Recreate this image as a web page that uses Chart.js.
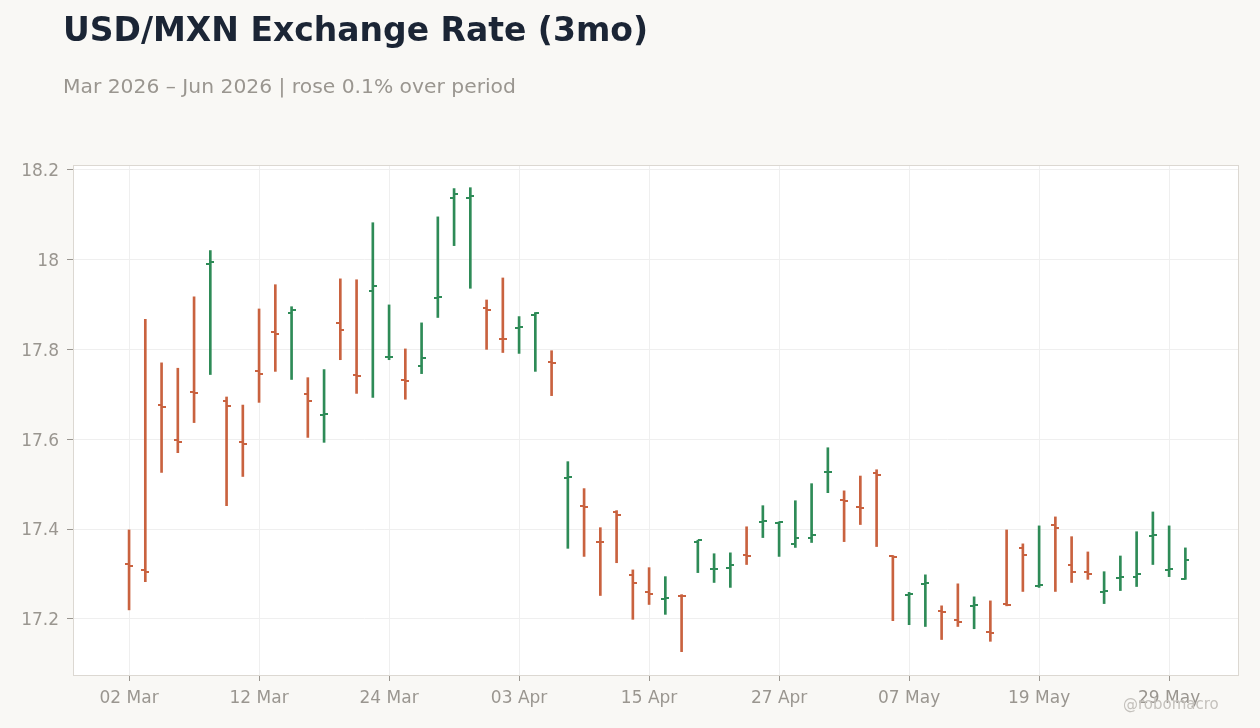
<!DOCTYPE html>
<html>
<head>
<meta charset="utf-8">
<title>USD/MXN Exchange Rate (3mo)</title>
<script src="https://cdn.jsdelivr.net/npm/chart.js@4.4.1/dist/chart.umd.min.js"></script>
<style>
  html, body { margin: 0; padding: 0; background: #f9f8f5; }
  body { width: 1260px; height: 728px; position: relative; overflow: hidden; font-family: "DejaVu Sans", sans-serif; }
  #title { position: absolute; left: 63px; top: 10px; font-size: 33px; font-weight: bold; color: #1b2535; white-space: nowrap; }
  #subtitle { position: absolute; left: 63px; top: 74px; font-size: 20.3px; color: #9a9690; white-space: nowrap; }
  #credit { position: absolute; left: 1123px; top: 695px; font-size: 15px; color: #c4c1bc; white-space: nowrap; }
  #wrap { position: absolute; left: 0; top: 0; width: 1260px; height: 728px; }
</style>
</head>
<body>
<div id="wrap"><canvas id="ohlcChart"></canvas></div>
<div id="title">USD/MXN Exchange Rate (3mo)</div>
<div id="subtitle">Mar 2026 – Jun 2026 | rose 0.1% over period</div>
<div id="credit">@robomacro</div>
<script>
// ---------- data (trading days) ----------
const dates = [
  '02 Mar', '03 Mar', '04 Mar', '05 Mar', '06 Mar', '09 Mar', '10 Mar', '11 Mar',
  '12 Mar', '13 Mar', '16 Mar', '17 Mar', '18 Mar', '19 Mar', '20 Mar', '23 Mar',
  '24 Mar', '25 Mar', '26 Mar', '27 Mar', '30 Mar', '31 Mar', '01 Apr', '02 Apr',
  '03 Apr', '06 Apr', '07 Apr', '08 Apr', '09 Apr', '10 Apr', '13 Apr', '14 Apr',
  '15 Apr', '16 Apr', '17 Apr', '20 Apr', '21 Apr', '22 Apr', '23 Apr', '24 Apr',
  '27 Apr', '28 Apr', '29 Apr', '30 Apr', '01 May', '04 May', '05 May', '06 May',
  '07 May', '08 May', '11 May', '12 May', '13 May', '14 May', '15 May', '18 May',
  '19 May', '20 May', '21 May', '22 May', '25 May', '26 May', '27 May', '28 May',
  '29 May', '01 Jun'
];

const opens = [
  17.322, 17.308, 17.677, 17.599, 17.706, 17.991, 17.684, 17.593,
  17.751, 17.838, 17.882, 17.700, 17.654, 17.858, 17.744, 17.929,
  17.782, 17.731, 17.764, 17.915, 18.138, 18.138, 17.893, 17.824,
  17.847, 17.876, 17.771, 17.513, 17.452, 17.372, 17.437, 17.297,
  17.259, 17.244, 17.252, 17.372, 17.310, 17.314, 17.342, 17.416,
  17.414, 17.366, 17.381, 17.526, 17.464, 17.449, 17.524, 17.339,
  17.254, 17.278, 17.217, 17.198, 17.229, 17.171, 17.233, 17.357,
  17.273, 17.408, 17.319, 17.305, 17.260, 17.292, 17.294, 17.385,
  17.308, 17.288
];

const highs = [
  17.398, 17.867, 17.770, 17.758, 17.917, 18.020, 17.694, 17.676,
  17.890, 17.944, 17.895, 17.737, 17.755, 17.957, 17.955, 18.082,
  17.899, 17.801, 17.859, 18.095, 18.158, 18.160, 17.910, 17.959,
  17.873, 17.882, 17.797, 17.550, 17.490, 17.403, 17.441, 17.309,
  17.314, 17.294, 17.254, 17.375, 17.345, 17.347, 17.405, 17.452,
  17.416, 17.463, 17.501, 17.581, 17.485, 17.518, 17.532, 17.341,
  17.259, 17.298, 17.229, 17.278, 17.249, 17.240, 17.398, 17.367,
  17.407, 17.427, 17.383, 17.349, 17.305, 17.340, 17.394, 17.438,
  17.407, 17.358
];

const lows = [
  17.220, 17.283, 17.526, 17.570, 17.637, 17.744, 17.452, 17.517,
  17.682, 17.751, 17.733, 17.604, 17.593, 17.777, 17.702, 17.693,
  17.777, 17.689, 17.746, 17.871, 18.031, 17.936, 17.800, 17.793,
  17.791, 17.751, 17.697, 17.357, 17.339, 17.252, 17.325, 17.199,
  17.232, 17.210, 17.127, 17.303, 17.281, 17.270, 17.321, 17.381,
  17.339, 17.359, 17.370, 17.481, 17.372, 17.410, 17.361, 17.196,
  17.187, 17.183, 17.154, 17.183, 17.178, 17.150, 17.229, 17.261,
  17.270, 17.261, 17.281, 17.288, 17.234, 17.263, 17.272, 17.321,
  17.294, 17.288
];

const closes = [
  17.318, 17.305, 17.672, 17.594, 17.703, 17.994, 17.674, 17.590,
  17.746, 17.835, 17.887, 17.684, 17.656, 17.844, 17.740, 17.940,
  17.784, 17.729, 17.780, 17.917, 18.145, 18.141, 17.887, 17.823,
  17.849, 17.882, 17.769, 17.515, 17.448, 17.371, 17.432, 17.279,
  17.256, 17.246, 17.251, 17.375, 17.312, 17.321, 17.341, 17.418,
  17.415, 17.379, 17.386, 17.528, 17.462, 17.447, 17.521, 17.338,
  17.256, 17.280, 17.215, 17.194, 17.231, 17.169, 17.231, 17.343,
  17.275, 17.403, 17.305, 17.299, 17.262, 17.294, 17.299, 17.387,
  17.310, 17.330
];

const xTickIdx = [0, 8, 16, 24, 32, 40, 48, 56, 64];
const yTickVals = [17.2, 17.4, 17.6, 17.8, 18.0, 18.2];

// ---------- styles ----------
const UP = '#2e8b57';
const DOWN = '#c9623f';
const isUp = (i) => closes[i] >= opens[i];
const colorOf = (i) => (isUp(i) ? UP : DOWN);

// little tick images for open (left) and close (right)
function makeTick(color, side) {
  const c = document.createElement('canvas');
  c.width = 8;
  c.height = 2;
  const g = c.getContext('2d');
  g.fillStyle = color;
  g.fillRect(side === 'left' ? 0 : 4, 0, 4, 2);
  return c;
}
const ticks = {
  openUp: makeTick(UP, 'left'),
  openDown: makeTick(DOWN, 'left'),
  closeUp: makeTick(UP, 'right'),
  closeDown: makeTick(DOWN, 'right')
};

// plot background + frame
const frame = {
  id: 'frame',
  beforeDraw(chart) {
    const { ctx, chartArea: a } = chart;
    ctx.save();
    ctx.fillStyle = '#ffffff';
    ctx.fillRect(a.left, a.top, a.right - a.left, a.bottom - a.top);
    ctx.restore();
  },
  beforeDatasetsDraw(chart) {
    const { ctx, chartArea: a } = chart;
    ctx.save();
    ctx.strokeStyle = '#dcd8d2';
    ctx.lineWidth = 1;
    ctx.strokeRect(a.left + 0.5, a.top + 0.5, a.right - a.left - 1, a.bottom - a.top);
    ctx.restore();
  }
};

const tickFont = { family: 'DejaVu Sans', size: 17 };

new Chart(document.getElementById('ohlcChart'), {
  type: 'bar',
  data: {
    datasets: [
      {
        label: 'High-Low',
        type: 'bar',
        data: dates.map((d, i) => ({ x: i, y: [lows[i], highs[i]] })),
        backgroundColor: dates.map((d, i) => colorOf(i)),
        barThickness: 2,
        order: 2
      },
      {
        label: 'Open',
        type: 'line',
        showLine: false,
        data: dates.map((d, i) => ({ x: i, y: opens[i] })),
        pointRadius: 2,
        pointStyle: (c) => (isUp(c.dataIndex) ? ticks.openUp : ticks.openDown),
        order: 1
      },
      {
        label: 'Close',
        type: 'line',
        showLine: false,
        data: dates.map((d, i) => ({ x: i, y: closes[i] })),
        pointRadius: 2,
        pointStyle: (c) => (isUp(c.dataIndex) ? ticks.closeUp : ticks.closeDown),
        order: 1
      }
    ]
  },
  options: {
    responsive: true,
    maintainAspectRatio: false,
    animation: false,
    layout: { padding: { top: 165, right: 21, left: 0, bottom: 0 } },
    scales: {
      x: {
        type: 'linear',
        offset: false,
        min: -3.45,
        max: 68.3,
        afterFit: (s) => { s.height = 53; },
        afterBuildTicks: (s) => { s.ticks = xTickIdx.map((v) => ({ value: v })); },
        grid: { offset: false, color: '#efefef', tickColor: '#9a9690', tickLength: 6 },
        border: { display: false },
        ticks: {
          color: '#9a9690',
          font: tickFont,
          padding: 7,
          maxRotation: 0,
          callback: (v) => dates[v]
        }
      },
      y: {
        min: 17.075,
        max: 18.2105,
        afterFit: (s) => { s.width = 73; },
        afterBuildTicks: (s) => { s.ticks = yTickVals.map((v) => ({ value: v })); },
        grid: { color: '#efefef', tickColor: '#9a9690', tickLength: 6 },
        border: { display: false },
        ticks: {
          color: '#9a9690',
          font: tickFont,
          padding: 8,
          labelOffset: 2,
          callback: (v) => String(Number(v.toFixed(1)))
        }
      }
    },
    plugins: {
      legend: { display: false },
      tooltip: { enabled: false }
    }
  },
  plugins: [frame]
});
</script>
</body>
</html>
